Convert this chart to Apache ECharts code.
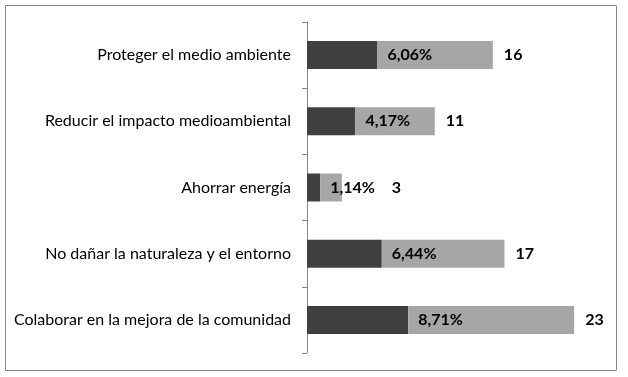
<!DOCTYPE html>
<html>
<head>
<meta charset="utf-8">
<script src="https://cdn.jsdelivr.net/npm/echarts@6/dist/echarts.min.js"></script>
<style>
  html, body { margin: 0; padding: 0; background: #fff; }
  #chart { width: 628px; height: 377px; }
</style>
</head>
<body>
<div id="chart"></div>
<script>
// categorías (de arriba a abajo)
let categories = [
    'Proteger el medio ambiente',
    'Reducir el impacto medioambiental',
    'Ahorrar energía',
    'No dañar la naturaleza y el entorno',
    'Colaborar en la mejora de la comunidad'
];
// porcentaje (parte oscura)
let percents = [6.06, 4.17, 1.14, 6.44, 8.71];
// total de respuestas
let counts = [16, 11, 3, 17, 23];

// resto de la barra hasta el total
let rest = counts.map((c, i) => +(c - percents[i]).toFixed(2));

let font = 'Lato';

// si la barra clara es muy corta el total se aparta del porcentaje
let countData = counts.map((c, i) => rest[i] < 4 ? { value: c, label: { distance: 50 } } : c);

let myChart = echarts.init(document.getElementById('chart'));

myChart.setOption({
    animation: false,
    graphic: [{
        type: 'rect',
        shape: { x: 5.5, y: 5.5, width: 611, height: 365 },
        style: { fill: 'none', stroke: '#868686', lineWidth: 1 },
        silent: true
    }],
    grid: { left: 307, right: 19, top: 22, bottom: 24 },
    xAxis: {
        type: 'value',
        min: 0,
        max: 26,
        show: false
    },
    yAxis: {
        type: 'category',
        inverse: true,
        data: categories,
        axisLine: { lineStyle: { color: '#868686', width: 1 } },
        axisTick: { show: true, length: 5, lineStyle: { color: '#868686' } },
        axisLabel: {
            margin: 16,
            color: '#000',
            fontFamily: font,
            fontSize: 16
        },
        splitLine: { show: false }
    },
    series: [
        {
            name: 'pct',
            type: 'bar',
            stack: 'total',
            barWidth: 28,
            itemStyle: { color: '#404040' },
            data: percents
        },
        {
            name: 'rest',
            type: 'bar',
            stack: 'total',
            barWidth: 28,
            itemStyle: { color: '#a6a6a6' },
            label: {
                show: true,
                position: 'insideLeft',
                distance: 10,
                color: '#000',
                fontFamily: font,
                fontWeight: 'bold',
                fontSize: 16,
                formatter: p => percents[p.dataIndex].toFixed(2).replace('.', ',') + '%'
            },
            data: rest
        },
        {
            name: 'count',
            type: 'bar',
            barWidth: 28,
            barGap: '-100%',
            z: 1,
            itemStyle: { color: 'rgba(0,0,0,0)' },
            label: {
                show: true,
                position: 'right',
                distance: 11,
                color: '#000',
                fontFamily: font,
                fontWeight: 'bold',
                fontSize: 16
            },
            data: countData
        }
    ]
});
</script>
</body>
</html>
